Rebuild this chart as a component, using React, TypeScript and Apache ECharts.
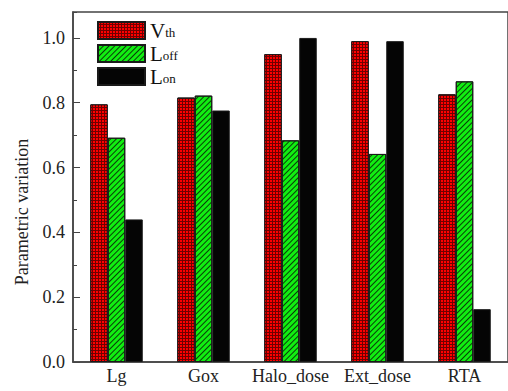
import React, { useEffect, useRef } from "react";
import * as echarts from "echarts";

const categories = ["Lg", "Gox", "Halo_dose", "Ext_dose", "RTA"];
const vthValues = [0.795, 0.816, 0.95, 0.99, 0.826];
const loffValues = [0.692, 0.822, 0.684, 0.642, 0.866];
const lonValues = [0.44, 0.776, 1.0, 0.99, 0.163];
const seriesNames = ["Vth", "Loff", "Lon"];
const legendLabels: Record<string, string> = {
  Vth: "{main|V}{sub|th}",
  Loff: "{main|L}{sub|off}",
  Lon: "{main|L}{sub|on}",
};

const SERIF = "Liberation Serif";

export default function App() {
  const ref = useRef<HTMLDivElement>(null);
  useEffect(() => {
    if (!ref.current) return;
    const chart = echarts.init(ref.current, undefined, { renderer: "svg" });
    const border = { borderColor: "#1a1a1a", borderWidth: 1 };
    chart.setOption({
      animation: false,
      backgroundColor: "#ffffff",
      textStyle: { fontFamily: SERIF },
      grid: {
        left: 73,
        right: -4,
        top: 12,
        bottom: 29,
        show: true,
        borderColor: "#444",
        borderWidth: 1.5,
        backgroundColor: "transparent",
      },
      legend: {
        orient: "vertical",
        left: 97,
        top: 20,
        padding: 0,
        itemWidth: 47,
        itemHeight: 17,
        itemGap: 2,
        icon: "rect",
        data: seriesNames,
        formatter: (name: string) => legendLabels[name],
        textStyle: {
          fontFamily: SERIF,
          rich: {
            main: { fontFamily: SERIF, fontSize: 21, color: "#111", lineHeight: 17 },
            sub: {
              fontFamily: SERIF,
              fontSize: 13,
              color: "#111",
              lineHeight: 11,
              verticalAlign: "bottom",
            },
          },
        },
      },
      xAxis: [
        {
          type: "category",
          data: categories,
          axisLine: { lineStyle: { color: "#444", width: 1.5 } },
          axisTick: { alignWithLabel: true, length: 5, lineStyle: { color: "#444" } },
          axisLabel: { fontFamily: SERIF, fontSize: 18, color: "#222", margin: 5, interval: 0 },
        },
        {
          type: "category",
          data: categories,
          position: "bottom",
          axisLine: { show: false },
          axisTick: { length: 3, lineStyle: { color: "#444" } },
          axisLabel: { show: false },
        },
      ],
      yAxis: [
        {
          type: "value",
          min: 0,
          max: 1.08,
          interval: 0.2,
          name: "Parametric variation",
          nameLocation: "middle",
          nameGap: 42,
          nameTextStyle: {
            fontFamily: SERIF,
            fontSize: 18,
            color: "#222",
            padding: [0, 50, 0, 0],
          },
          axisLine: { show: true, lineStyle: { color: "#444", width: 1.5 } },
          axisTick: { show: true, inside: true, length: 7, lineStyle: { color: "#444" } },
          splitLine: { show: false },
          axisLabel: {
            fontFamily: SERIF,
            fontSize: 18,
            color: "#222",
            margin: 8,
            showMaxLabel: false,
            formatter: (v: number) => v.toFixed(1),
          },
        },
        {
          type: "value",
          min: 0,
          max: 1.08,
          interval: 0.1,
          position: "left",
          axisLine: { show: false },
          axisTick: { show: true, inside: true, length: 4, lineStyle: { color: "#444" } },
          splitLine: { show: false },
          axisLabel: { show: false },
        },
      ],
      series: [
        {
          name: "Vth",
          type: "bar",
          data: vthValues,
          barWidth: 17.5,
          barGap: "0%",
          itemStyle: {
            color: "#700000",
            ...border,
            decal: {
              symbol: "rect",
              symbolSize: 1,
              color: "#ff0000",
              dashArrayX: [2, 1],
              dashArrayY: [2, 1],
            },
          },
        },
        {
          name: "Loff",
          type: "bar",
          data: loffValues,
          barWidth: 17.5,
          barGap: "0%",
          itemStyle: {
            color: "#11ee11",
            ...border,
            decal: {
              symbol: "rect",
              symbolSize: 1,
              color: "#0a3a0a",
              dashArrayX: [1, 0],
              dashArrayY: [1, 3],
              rotation: -Math.PI / 4,
            },
          },
        },
        {
          name: "Lon",
          type: "bar",
          data: lonValues,
          barWidth: 17.5,
          barGap: "0%",
          itemStyle: { color: "#050505", ...border },
        },
      ],
    });
    return () => chart.dispose();
  }, []);
  return <div ref={ref} style={{ width: 508, height: 391, position: "absolute", left: 0, top: 0 }} />;
}
